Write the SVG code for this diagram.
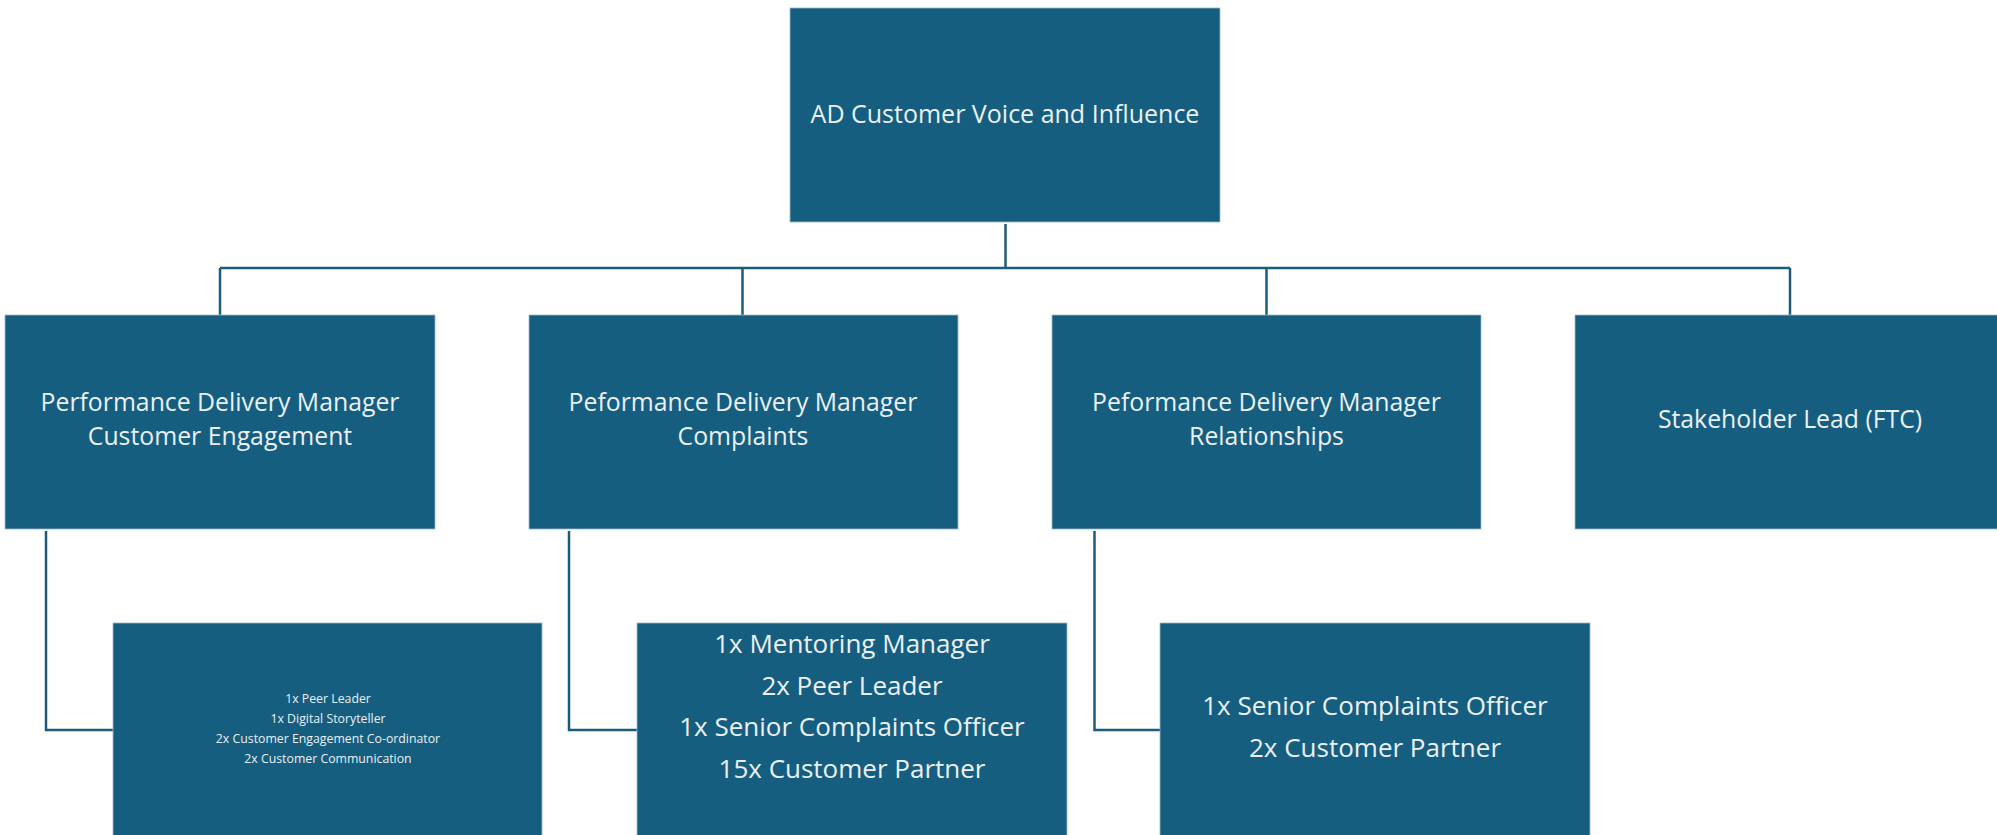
<svg xmlns="http://www.w3.org/2000/svg" width="1997" height="835" viewBox="0 0 1997 835">
<style>
.box{fill:#165e80;stroke:#9fb9c8;stroke-width:0.8}
.t{font-family:"Open Sans","Liberation Sans",sans-serif;fill:#eaf0f3;text-anchor:middle}
.l{font-size:24.8px}
.s{font-size:12.3px}
.m{font-size:26px}
.conn{fill:none;stroke:#1b5c7a;stroke-width:2.5}
</style>
<rect width="1997" height="835" fill="#ffffff"/>
<g id="connectors">
<path class="conn" d="M1005.5 224 V268 M220 268 H1790 M220 268 V315 M742.5 268 V315 M1266.5 268 V315 M1790 268 V315"/>
<path class="conn" d="M46 531 V730 H113"/>
<path class="conn" d="M569 531 V730 H637"/>
<path class="conn" d="M1094.5 531 V730 H1160"/>
</g>
<g id="n-ad">
<rect class="box" x="790" y="8" width="430" height="214"/>
<text class="t" x="1005" y="123" style="font-size:25px">AD Customer Voice and Influence</text>
</g>
<g id="n-pdm-ce">
<rect class="box" x="5" y="315" width="430" height="214"/>
<text class="t l" x="220" y="411">Performance Delivery Manager</text>
<text class="t l" x="220" y="445">Customer Engagement</text>
</g>
<g id="n-pdm-c">
<rect class="box" x="529" y="315" width="429" height="214"/>
<text class="t l" x="743" y="411">Peformance Delivery Manager</text>
<text class="t l" x="743" y="445">Complaints</text>
</g>
<g id="n-pdm-r">
<rect class="box" x="1052" y="315" width="429" height="214"/>
<text class="t l" x="1266.5" y="411">Peformance Delivery Manager</text>
<text class="t l" x="1266.5" y="445">Relationships</text>
</g>
<g id="n-stake">
<rect class="box" x="1575" y="315" width="430" height="214"/>
<text class="t l" x="1790" y="428">Stakeholder Lead (FTC)</text>
</g>
<g id="n-team-ce">
<rect class="box" x="113" y="623" width="429" height="250"/>
<text class="t s" x="328" y="703">1x Peer Leader</text>
<text class="t s" x="328" y="723">1x Digital  Storyteller</text>
<text class="t s" x="328" y="743">2x Customer Engagement  Co-ordinator</text>
<text class="t s" x="328" y="763">2x Customer Communication</text>
</g>
<g id="n-team-c">
<rect class="box" x="637" y="623" width="430" height="250"/>
<text class="t m" x="852" y="653">1x Mentoring Manager</text>
<text class="t m" x="852" y="695">2x Peer Leader</text>
<text class="t m" x="852" y="736">1x Senior Complaints Officer</text>
<text class="t m" x="852" y="778">15x Customer Partner</text>
</g>
<g id="n-team-r">
<rect class="box" x="1160" y="623" width="430" height="250"/>
<text class="t m" x="1375" y="715">1x Senior Complaints Officer</text>
<text class="t m" x="1375" y="757">2x Customer Partner</text>
</g>
</svg>
